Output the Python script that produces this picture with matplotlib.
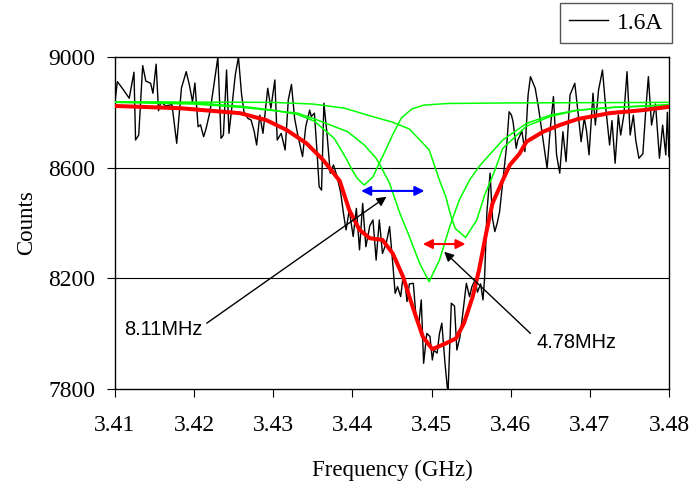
import matplotlib
matplotlib.use("Agg")
import matplotlib.pyplot as plt

# measured spectrum (GHz, counts)
freq = [3.4100, 3.4103, 3.4111, 3.4118, 3.4124, 3.4126, 3.4130, 3.4135, 3.4139, 3.4145,
        3.4148, 3.4152, 3.4155, 3.4158, 3.4164, 3.4172, 3.4178, 3.4184, 3.4190, 3.4194,
        3.4198, 3.4201, 3.4205, 3.4208, 3.4212, 3.4215, 3.4220, 3.4225, 3.4230, 3.4234,
        3.4237, 3.4241, 3.4244, 3.4248, 3.4252, 3.4256, 3.4260, 3.4263, 3.4268, 3.4272,
        3.4276, 3.4279, 3.4283, 3.4287, 3.4293, 3.4297, 3.4302, 3.4305, 3.4310, 3.4315,
        3.4319, 3.4323, 3.4327, 3.4331, 3.4337, 3.4341, 3.4346, 3.4348, 3.4352, 3.4355,
        3.4358, 3.4361, 3.4364, 3.4368, 3.4372, 3.4376, 3.4380, 3.4385, 3.4389, 3.4392,
        3.4396, 3.4401, 3.4405, 3.4409, 3.4413, 3.4417, 3.4422, 3.4426, 3.4430, 3.4434,
        3.4438, 3.4443, 3.4447, 3.4451, 3.4454, 3.4457, 3.4461, 3.4464, 3.4467, 3.4469,
        3.4472, 3.4477, 3.4480, 3.4484, 3.4487, 3.4490, 3.4494, 3.4498, 3.4501, 3.4503,
        3.4507, 3.4510, 3.4513, 3.4517, 3.4520, 3.4521, 3.4525, 3.4529, 3.4532, 3.4536,
        3.4541, 3.4544, 3.4548, 3.4551, 3.4555, 3.4558, 3.4562, 3.4565, 3.4567, 3.4570,
        3.4574, 3.4577, 3.4580, 3.4583, 3.4586, 3.4590, 3.4595, 3.4598, 3.4601, 3.4603,
        3.4607, 3.4609, 3.4612, 3.4614, 3.4618, 3.4622, 3.4625, 3.4631, 3.4635, 3.4641,
        3.4646, 3.4650, 3.4654, 3.4658, 3.4662, 3.4666, 3.4670, 3.4675, 3.4681, 3.4685,
        3.4689, 3.4693, 3.4696, 3.4699, 3.4704, 3.4707, 3.4711, 3.4716, 3.4720, 3.4725,
        3.4728, 3.4732, 3.4736, 3.4739, 3.4743, 3.4747, 3.4751, 3.4755, 3.4758, 3.4762,
        3.4767, 3.4771, 3.4774, 3.4778, 3.4783, 3.4788, 3.4792, 3.4796, 3.4798, 3.4800]
counts = [8838, 8911, 8880, 8851, 8945, 8700, 8718, 8969, 8913, 8905,
          8869, 8974, 8806, 8838, 8823, 8828, 8688, 8888, 8947, 8899,
          8838, 8906, 8748, 8755, 8712, 8740, 8802, 8899, 9000, 8706,
          8718, 8953, 8724, 8827, 8935, 9000, 8863, 8802, 8778, 8772,
          8730, 8682, 8790, 8724, 8887, 8815, 8917, 8700, 8724, 8664,
          8845, 8901, 8778, 8718, 8640, 8748, 8808, 8785, 8797, 8670,
          8531, 8519, 8833, 8720, 8580, 8610, 8574, 8513, 8429, 8375,
          8447, 8351, 8453, 8303, 8471, 8314, 8390, 8411, 8266, 8411,
          8290, 8330, 8387, 8254, 8146, 8170, 8134, 8206, 8170, 8116,
          8180, 8182, 8074, 8038, 8122, 7893, 8001, 7990, 7905, 7940,
          7930, 8000, 8038, 7893, 7803, 7800, 8110, 8100, 7941, 7989,
          8110, 8182, 8134, 8170, 8194, 8150, 8180, 8122, 8200, 8441,
          8580, 8417, 8369, 8400, 8441, 8550, 8682, 8802, 8790, 8766,
          8670, 8700, 8718, 8735, 8658, 8863, 8929, 8887, 8820, 8700,
          8598, 8740, 8857, 8646, 8580, 8730, 8622, 8863, 8905, 8802,
          8694, 8780, 8730, 8646, 8869, 8754, 8880, 8953, 8820, 8682,
          8770, 8616, 8790, 8718, 8790, 8947, 8718, 8790, 8700, 8634,
          8650, 8820, 8929, 8754, 8830, 8634, 8754, 8646, 8800, 8640]

# total fit (red)
fit_freq = [3.4100, 3.4182, 3.4258, 3.4291, 3.4317, 3.4342, 3.4363, 3.4384, 3.4396, 3.4409,
            3.4422, 3.4438, 3.4451, 3.4464, 3.4476, 3.4489, 3.4501, 3.4518, 3.4531, 3.4541,
            3.4552, 3.4560, 3.4569, 3.4577, 3.4590, 3.4599, 3.4611, 3.4620, 3.4641, 3.4662,
            3.4685, 3.4725, 3.4767, 3.4800]
fit_counts = [8823, 8815, 8797, 8772, 8736, 8688, 8628, 8552, 8447, 8375,
              8345, 8339, 8290, 8206, 8098, 7989, 7944, 7965, 7983, 8038,
              8134, 8230, 8363, 8471, 8555, 8610, 8650, 8694, 8730, 8754,
              8776, 8797, 8808, 8820]

# single peaks (green)
p1_freq = [3.4100, 3.4200, 3.4260, 3.4300, 3.4331, 3.4352, 3.4377, 3.4392, 3.4400, 3.4406,
           3.4415, 3.4426, 3.4434, 3.4445, 3.4451, 3.4462, 3.4475, 3.4490, 3.4520, 3.4600,
           3.4800]
p1_counts = [8838, 8834, 8822, 8808, 8792, 8768, 8706, 8634, 8590, 8562,
             8537, 8567, 8616, 8682, 8720, 8780, 8812, 8826, 8832, 8834,
             8836]
p2_freq = [3.4100, 3.4200, 3.4260, 3.4331, 3.4356, 3.4394, 3.4415, 3.4430, 3.4436, 3.4447,
           3.4460, 3.4472, 3.4485, 3.4497, 3.4510, 3.4523, 3.4535, 3.4548, 3.4560, 3.4573,
           3.4590, 3.4620, 3.4650, 3.4685, 3.4730, 3.4800]
p2_counts = [8836, 8830, 8818, 8797, 8772, 8730, 8682, 8634, 8604, 8543,
             8435, 8351, 8254, 8188, 8266, 8387, 8483, 8555, 8604, 8646,
             8700, 8760, 8790, 8808, 8818, 8828]
p3_freq = [3.4100, 3.4300, 3.4350, 3.4390, 3.4425, 3.4450, 3.4472, 3.4497, 3.4510, 3.4518,
           3.4524, 3.4530, 3.4543, 3.4557, 3.4567, 3.4580, 3.4590, 3.4620, 3.4650, 3.4685,
           3.4730, 3.4800]
p3_counts = [8838, 8836, 8830, 8815, 8785, 8765, 8740, 8664, 8555, 8495,
             8430, 8380, 8348, 8410, 8500, 8590, 8670, 8750, 8785, 8808,
             8818, 8825]

xticks = [3.41, 3.42, 3.43, 3.44, 3.45, 3.46, 3.47, 3.48]
yticks = [7800, 8200, 8600, 9000]

serif = "Liberation Serif"
sans = "Liberation Sans"

fig = plt.figure(figsize=(6.91, 4.91), dpi=100)
ax = fig.add_axes([0.1664, 0.2077, 0.8017, 0.6762])

for y in yticks[1:-1]:
    ax.axhline(y, color="black", linewidth=0.8, zorder=1)

ax.plot(freq, counts, color="black", linewidth=1.0, label="1.6A", zorder=3)
ax.plot(p1_freq, p1_counts, color="#00ff00", linewidth=1.1, zorder=4)
ax.plot(p2_freq, p2_counts, color="#00ff00", linewidth=1.1, zorder=4)
ax.plot(p3_freq, p3_counts, color="#00ff00", linewidth=1.1, zorder=4)
ax.plot(fit_freq, fit_counts, color="red", linewidth=2.9, zorder=5)

# linewidth markers
ax.annotate("", xy=(3.4411, 8516), xytext=(3.4491, 8516),
            arrowprops=dict(arrowstyle="<|-|>", color="blue", lw=1.5,
                            mutation_scale=14, shrinkA=0, shrinkB=0), zorder=6)
ax.annotate("", xy=(3.4489, 8324), xytext=(3.4543, 8324),
            arrowprops=dict(arrowstyle="<|-|>", color="red", lw=1.5,
                            mutation_scale=14, shrinkA=0, shrinkB=0), zorder=6)

ax.annotate("", xy=(3.4443, 8495), xytext=(3.4216, 8038),
            arrowprops=dict(arrowstyle="-|>", color="black", lw=1.0,
                            mutation_scale=14, shrinkA=0, shrinkB=0), zorder=6)
ax.annotate("", xy=(3.4516, 8296), xytext=(3.4625, 8001),
            arrowprops=dict(arrowstyle="-|>", color="black", lw=1.0,
                            mutation_scale=14, shrinkA=0, shrinkB=0), zorder=6)
ax.text(3.4210, 8015, "8.11MHz", family=sans, fontsize=14.4, ha="right", va="center")
ax.text(3.4632, 7967, "4.78MHz", family=sans, fontsize=14.4, ha="left", va="center")

ax.set_xlim(3.41, 3.48)
ax.set_ylim(7800, 9000)
ax.set_xticks(xticks)
ax.set_xticklabels([f"{t:.2f}" for t in xticks])
ax.set_yticks(yticks)
ax.set_yticklabels([str(t) for t in yticks])
ax.tick_params(axis="both", direction="out", length=6, width=0.8, labelsize=17)
ax.tick_params(axis="x", pad=13)
ax.tick_params(axis="y", pad=8)
for lab in ax.get_xticklabels() + ax.get_yticklabels():
    lab.set_family(serif)
for sp in ax.spines.values():
    sp.set_linewidth(1.0)
    sp.set_color("black")

ax.set_xlabel("Frequency (GHz)", family=serif, fontsize=16.5, labelpad=17)
ax.set_ylabel("Counts", family=serif, fontsize=16.5, labelpad=8)

leg = ax.legend(loc="upper right", bbox_to_anchor=(0.973, 0.9945),
                bbox_transform=fig.transFigure, prop={"family": serif, "size": 17},
                handlelength=1.65, handletextpad=0.35, borderpad=0.4,
                borderaxespad=0, fancybox=False, framealpha=1)
leg.get_frame().set_edgecolor("#555555")
leg.get_frame().set_linewidth(1.0)

fig.savefig("out.png", dpi=100)
